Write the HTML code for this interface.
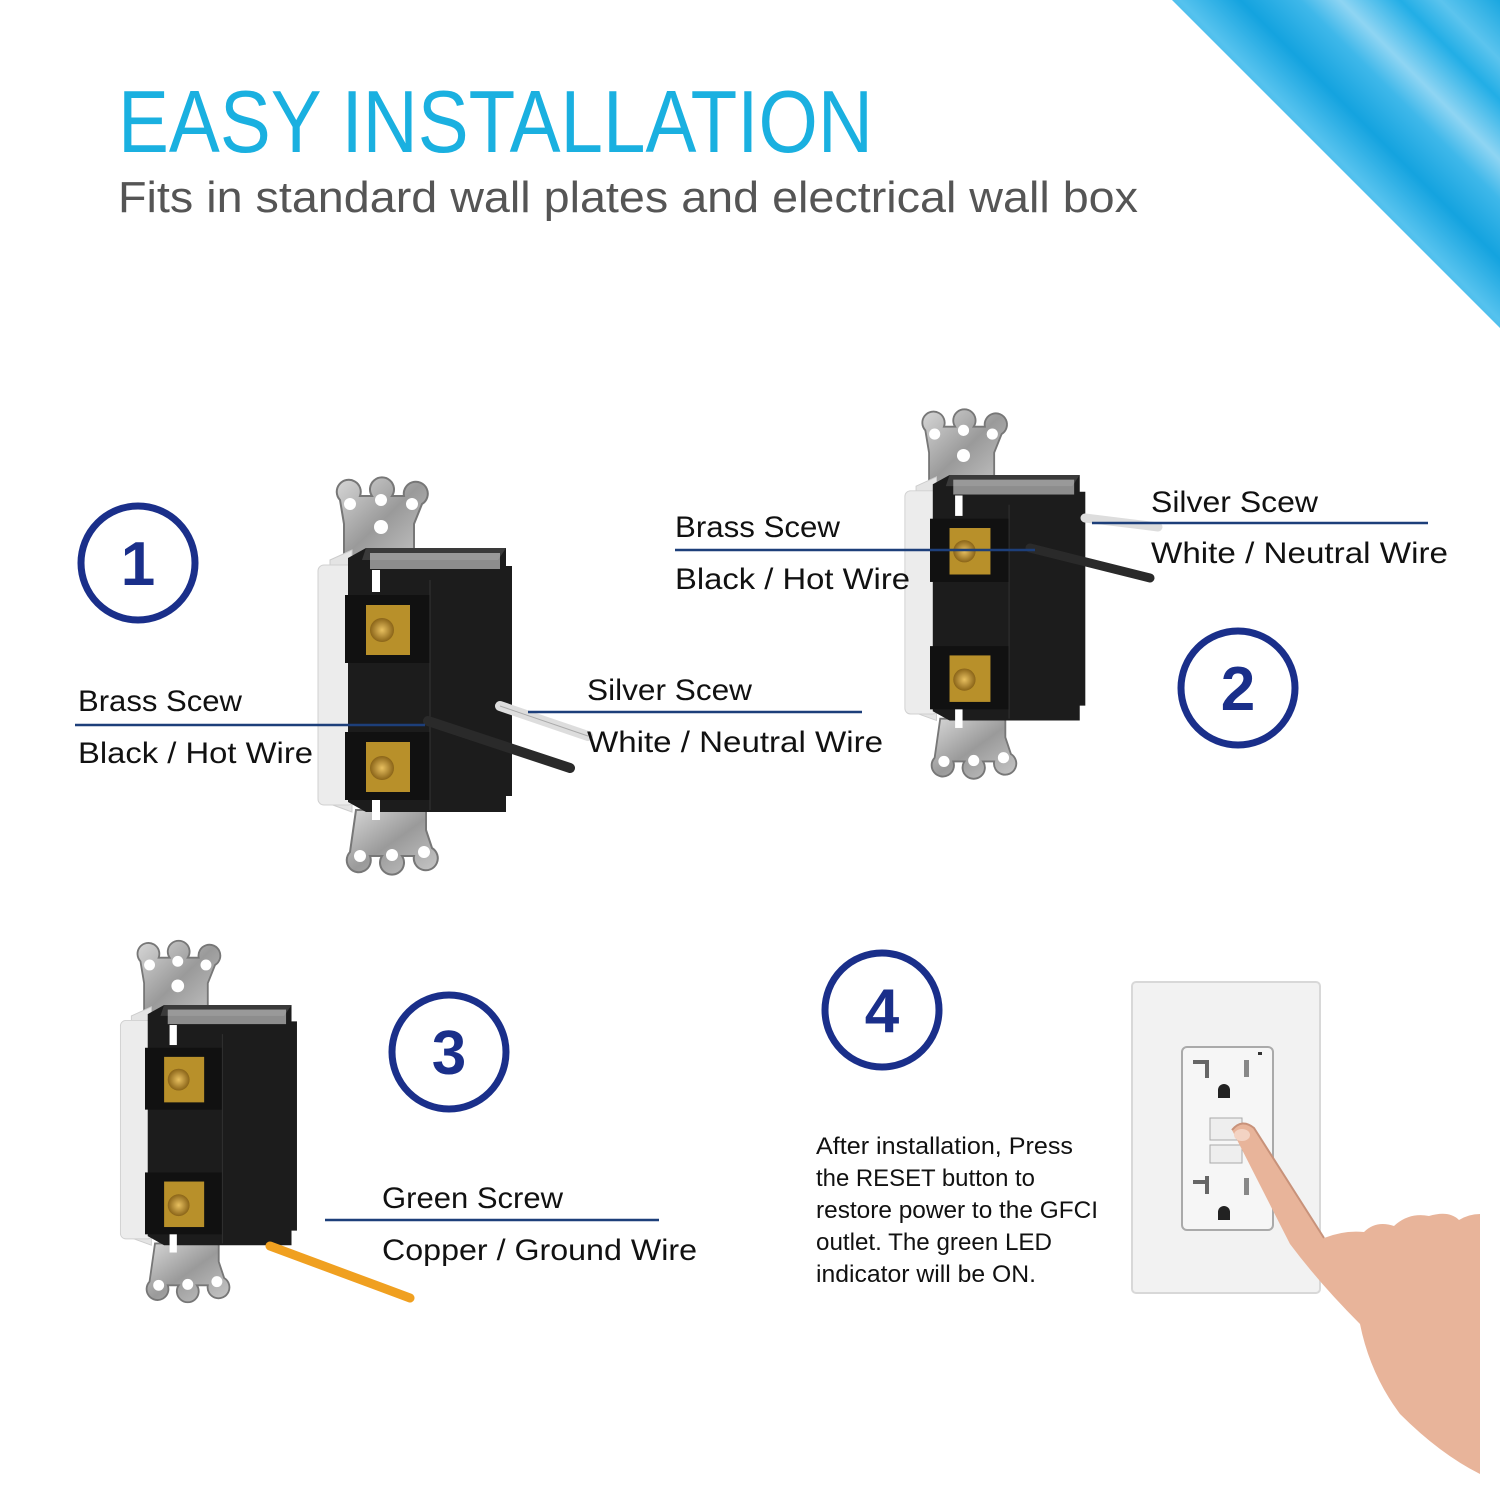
<!DOCTYPE html>
<html><head><meta charset="utf-8"><style>
html,body{margin:0;padding:0;background:#fff;}
svg{display:block;}
text{font-family:"Liberation Sans",sans-serif;}
</style></head><body>
<svg width="1500" height="1500" viewBox="0 0 1500 1500" xmlns="http://www.w3.org/2000/svg">
<defs>
<linearGradient id="tri" x1="1500" y1="0" x2="1300" y2="200" gradientUnits="userSpaceOnUse">
<stop offset="0" stop-color="#1aa7e0"/>
<stop offset="0.15" stop-color="#5cc4ee"/>
<stop offset="0.25" stop-color="#22aee6"/>
<stop offset="0.4" stop-color="#8fd5f3"/>
<stop offset="0.5" stop-color="#3fb8ea"/>
<stop offset="0.65" stop-color="#14a3df"/>
<stop offset="0.8" stop-color="#55c2ee"/>
<stop offset="1" stop-color="#1ea9e3"/>
</linearGradient>
<linearGradient id="metal" x1="0" y1="0" x2="1" y2="1">
<stop offset="0" stop-color="#d8d8d8"/><stop offset="0.5" stop-color="#9a9a9a"/><stop offset="1" stop-color="#c8c8c8"/>
</linearGradient>
<radialGradient id="brass"><stop offset="0" stop-color="#e8c060"/><stop offset="1" stop-color="#8a6418"/></radialGradient>
<g id="outlet">
  <path d="M340 500 a12 12 0 1 1 20 -4 l12 0 a12 12 0 1 1 20 0 l12 0 a12 12 0 1 1 18 8 l-8 20 l0 40 l-70 0 l0 -40 z" fill="url(#metal)" stroke="#777" stroke-width="2"/>
  <circle cx="350" cy="504" r="6" fill="#fff"/><circle cx="381" cy="500" r="6" fill="#fff"/><circle cx="412" cy="504" r="6" fill="#fff"/><circle cx="381" cy="527" r="7" fill="#fff"/>
  <path d="M356 810 l70 0 l0 20 l6 18 a12 12 0 1 1 -18 8 l-12 0 a12 12 0 1 1 -20 0 l-12 0 a12 12 0 1 1 -20 -4 z" fill="url(#metal)" stroke="#777" stroke-width="2"/>
  <circle cx="360" cy="856" r="6" fill="#fff"/><circle cx="392" cy="855" r="6" fill="#fff"/><circle cx="424" cy="852" r="6" fill="#fff"/>
  <path d="M330 560 l22 -10 l0 262 l-22 -8 z" fill="#e4e4e4" stroke="#ccc"/>
  <rect x="318" y="565" width="36" height="240" rx="6" fill="#ececec" stroke="#d0d0d0"/>
  <path d="M348 558 l18 -10 l140 0 l0 18 l6 0 l0 230 l-6 0 l0 16 l-140 0 l-18 -10 z" fill="#1c1c1c"/>
  <path d="M366 548 l140 0 l-8 12 l-136 0 z" fill="#3a3a3a"/>
  <rect x="370" y="553" width="130" height="16" fill="#d8d8d8" opacity="0.6"/>
  <rect x="345" y="595" width="85" height="68" fill="#111"/>
  <rect x="366" y="605" width="44" height="50" fill="#b8902a"/>
  <circle cx="382" cy="630" r="12" fill="url(#brass)"/>
  <rect x="345" y="732" width="85" height="68" fill="#111"/>
  <rect x="366" y="742" width="44" height="50" fill="#b8902a"/>
  <circle cx="382" cy="768" r="12" fill="url(#brass)"/>
  <rect x="372" y="570" width="8" height="22" fill="#fff"/>
  <rect x="372" y="800" width="8" height="20" fill="#fff"/>
  <line x1="430" y1="580" x2="430" y2="810" stroke="#333" stroke-width="1"/>
</g>
</defs>

<polygon points="1172,0 1500,0 1500,328" fill="url(#tri)"/>

<text x="118" y="152" font-size="88" fill="#1ab0e0" textLength="755" lengthAdjust="spacingAndGlyphs">EASY INSTALLATION</text>
<text x="118" y="212" font-size="44" fill="#555" textLength="1020" lengthAdjust="spacingAndGlyphs">Fits in standard wall plates and electrical wall box</text>

<use href="#outlet"/>
<use href="#outlet" transform="translate(930 475) scale(0.93) translate(-345 -548)"/>
<use href="#outlet" transform="translate(145 1005) scale(0.91) translate(-345 -548)"/>

<line x1="500" y1="706" x2="588" y2="736" stroke="#ddd" stroke-width="10" stroke-linecap="round"/>
<line x1="500" y1="706" x2="588" y2="736" stroke="#aaa" stroke-width="1"/>
<line x1="428" y1="721" x2="570" y2="768" stroke="#2a2a2a" stroke-width="10" stroke-linecap="round"/>
<line x1="1085" y1="518" x2="1158" y2="527" stroke="#ddd" stroke-width="9" stroke-linecap="round"/>
<line x1="1030" y1="548" x2="1150" y2="578" stroke="#2a2a2a" stroke-width="9" stroke-linecap="round"/>
<line x1="270" y1="1246" x2="410" y2="1298" stroke="#f0a020" stroke-width="9" stroke-linecap="round"/>

<g stroke="#1d3f7a" stroke-width="2.5">
<line x1="75" y1="725" x2="425" y2="725"/>
<line x1="528" y1="712" x2="862" y2="712"/>
<line x1="675" y1="550" x2="1035" y2="550"/>
<line x1="1092" y1="523" x2="1428" y2="523"/>
<line x1="325" y1="1220" x2="659" y2="1220"/>
</g>
<g font-size="30" fill="#111">
<text x="78" y="711" textLength="164" lengthAdjust="spacingAndGlyphs">Brass Scew</text>
<text x="78" y="763" textLength="235" lengthAdjust="spacingAndGlyphs">Black / Hot Wire</text>
<text x="587" y="700" textLength="165" lengthAdjust="spacingAndGlyphs">Silver Scew</text>
<text x="587" y="752" textLength="296" lengthAdjust="spacingAndGlyphs">White / Neutral Wire</text>
<text x="675" y="537" textLength="165" lengthAdjust="spacingAndGlyphs">Brass Scew</text>
<text x="675" y="589" textLength="235" lengthAdjust="spacingAndGlyphs">Black / Hot Wire</text>
<text x="1151" y="512" textLength="167" lengthAdjust="spacingAndGlyphs">Silver Scew</text>
<text x="1151" y="563" textLength="297" lengthAdjust="spacingAndGlyphs">White / Neutral Wire</text>
<text x="382" y="1208" textLength="181" lengthAdjust="spacingAndGlyphs">Green Screw</text>
<text x="382" y="1260" textLength="315" lengthAdjust="spacingAndGlyphs">Copper / Ground Wire</text>
</g>

<g fill="none" stroke="#1a2f8a" stroke-width="7">
<circle cx="138" cy="563" r="57"/>
<circle cx="1238" cy="688" r="57"/>
<circle cx="449" cy="1052" r="57"/>
<circle cx="882" cy="1010" r="57"/>
</g>
<g font-size="62" font-weight="bold" fill="#1a2f8a" text-anchor="middle">
<text x="138" y="585">1</text>
<text x="1238" y="710">2</text>
<text x="449" y="1074">3</text>
<text x="882" y="1032">4</text>
</g>

<g font-size="24" fill="#111">
<text x="816" y="1154" textLength="257" lengthAdjust="spacingAndGlyphs">After installation, Press</text>
<text x="816" y="1186" textLength="219" lengthAdjust="spacingAndGlyphs">the RESET button to</text>
<text x="816" y="1218" textLength="282" lengthAdjust="spacingAndGlyphs">restore power to the GFCI</text>
<text x="816" y="1250" textLength="236" lengthAdjust="spacingAndGlyphs">outlet. The green LED</text>
<text x="816" y="1282" textLength="220" lengthAdjust="spacingAndGlyphs">indicator will be ON.</text>
</g>

<rect x="1132" y="982" width="188" height="311" rx="4" fill="#f2f2f2" stroke="#d8d8d8" stroke-width="2"/>
<rect x="1182" y="1047" width="91" height="183" rx="5" fill="#f6f6f6" stroke="#aaa" stroke-width="2"/>
<rect x="1193" y="1060" width="12" height="4" fill="#666"/><rect x="1205" y="1060" width="4" height="18" fill="#666"/>
<rect x="1244" y="1060" width="5" height="17" fill="#888"/>
<path d="M1218 1090 a6 6 0 0 1 12 0 l0 8 l-12 0z" fill="#222"/>
<rect x="1210" y="1118" width="32" height="22" fill="#eee" stroke="#aaa"/>
<rect x="1210" y="1145" width="32" height="18" fill="#eee" stroke="#aaa"/>
<rect x="1193" y="1180" width="12" height="4" fill="#666"/><rect x="1205" y="1176" width="4" height="18" fill="#666"/>
<rect x="1244" y="1178" width="5" height="17" fill="#888"/>
<path d="M1218 1212 a6 6 0 0 1 12 0 l0 8 l-12 0z" fill="#222"/>
<rect x="1258" y="1052" width="4" height="3" fill="#333"/>
<path d="M1232 1130 q10 -12 22 -2 l70 110 q20 -8 40 -6 q12 -12 30 -6 q15 -14 35 -10 q20 -6 30 4 q10 -6 21 -6 l0 260 q-40 -20 -80 -60 q-30 -40 -40 -90 q-40 -40 -70 -80 z" fill="#e8b49a"/>
<path d="M1232 1130 q10 -12 22 -2 l70 110" fill="none" stroke="#c8927a" stroke-width="2"/>
<ellipse cx="1242" cy="1135" rx="8" ry="6" fill="#f3d3c3"/>
</svg>
</body></html>
